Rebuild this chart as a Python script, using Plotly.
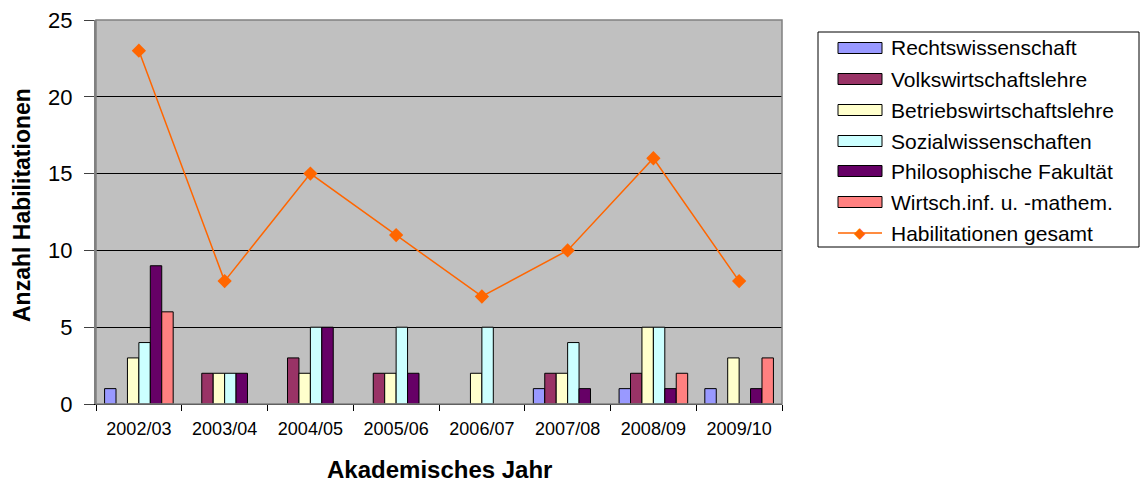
import plotly.graph_objects as go

years = ["2002/03", "2003/04", "2004/05", "2005/06", "2006/07", "2007/08", "2008/09", "2009/10"]
rechts = [1, 0, 0, 0, 0, 1, 1, 1]
vwl = [0, 2, 3, 2, 0, 2, 2, 0]
bwl = [3, 2, 2, 2, 2, 2, 5, 3]
sozial = [4, 2, 5, 5, 5, 4, 5, 0]
philo = [9, 2, 5, 2, 0, 1, 1, 1]
wirtsch = [6, 0, 0, 0, 0, 0, 2, 3]
gesamt = [23, 8, 15, 11, 7, 10, 16, 8]

series = [
    ("Rechtswissenschaft", rechts, "#9999FF"),
    ("Volkswirtschaftslehre", vwl, "#993366"),
    ("Betriebswirtschaftslehre", bwl, "#FFFFCC"),
    ("Sozialwissenschaften", sozial, "#CCFFFF"),
    ("Philosophische Fakultät", philo, "#660066"),
    ("Wirtsch.inf. u. -mathem.", wirtsch, "#FF8080"),
]
line_name = "Habilitationen gesamt"
line_color = "#FF6600"

W, H = 1141, 482
L, R, T, B = 96, 782, 20, 404  # plot area in pixels


def px(x):
    return (x - L) / (R - L)


def py(y):
    return (B - y) / (B - T)


fig = go.Figure()
for name, vals, col in series:
    fig.add_trace(go.Bar(
        x=years, y=[v if v != 0 else None for v in vals], name=name,
        marker=dict(color=col, line=dict(color="black", width=1)),
        showlegend=False,
    ))
fig.add_trace(go.Scatter(
    x=years, y=gesamt, name=line_name, mode="lines+markers",
    line=dict(color=line_color, width=1.5),
    marker=dict(symbol="diamond", size=11, color=line_color),
    showlegend=False,
))

font = "Liberation Sans, Arial, sans-serif"
fig.update_layout(
    width=W, height=H,
    margin=dict(l=L, r=W - R, t=T, b=H - B),
    paper_bgcolor="white", plot_bgcolor="#C0C0C0",
    barmode="group", bargap=0.2, bargroupgap=0,
    font=dict(family=font, color="black"),
    showlegend=False,
    xaxis=dict(
        type="category", tickson="boundaries", ticks="outside", ticklen=6,
        tickcolor="black", showline=True, linecolor="black", linewidth=1,
        tickfont=dict(size=18), showgrid=False, automargin=False,
        ticklabelstandoff=8,
    ),
    yaxis=dict(
        range=[0, 25], dtick=5, ticks="outside", ticklen=10, tickcolor="#404040",
        showline=True, linecolor="#808080", linewidth=2,
        showgrid=True, gridcolor="black", gridwidth=1,
        tickfont=dict(size=22), zeroline=False, automargin=False,
        ticklabelstandoff=7,
    ),
)
# plot area border
fig.add_shape(type="rect", xref="paper", yref="paper", x0=0, x1=1, y0=0, y1=1,
              line=dict(color="#808080", width=1.5), layer="above")

# axis titles
fig.add_annotation(text="<b>Akademisches Jahr</b>", xref="paper", yref="paper",
                   x=px(439), y=py(469), showarrow=False, font=dict(size=24),
                   xanchor="center", yanchor="middle")
fig.add_annotation(text="<b>Anzahl Habilitationen</b>", xref="paper", yref="paper",
                   x=px(22), y=py(205), showarrow=False, font=dict(size=23),
                   textangle=-90, xanchor="center", yanchor="middle")

# custom legend
fig.add_shape(type="rect", xref="paper", yref="paper",
              x0=px(818), x1=px(1139), y0=py(32), y1=py(247),
              line=dict(color="black", width=1), fillcolor="white", layer="above")
rows = [48, 79, 110, 141, 171, 202, 233]
for (name, vals, col), yc in zip(series, rows):
    fig.add_shape(type="rect", xref="paper", yref="paper",
                  x0=px(838), x1=px(882), y0=py(yc - 5.5), y1=py(yc + 5.5),
                  line=dict(color="black", width=1), fillcolor=col, layer="above")
    fig.add_annotation(text=name, xref="paper", yref="paper", x=px(889), y=py(yc),
                       xanchor="left", yanchor="middle", showarrow=False,
                       font=dict(size=21))
yc = rows[-1]
fig.add_shape(type="line", xref="paper", yref="paper",
              x0=px(838), x1=px(882), y0=py(yc), y1=py(yc),
              line=dict(color=line_color, width=1.5), layer="above")
fig.add_annotation(text="◆", xref="paper", yref="paper", x=px(860), y=py(yc),
                   xanchor="center", yanchor="middle", showarrow=False,
                   font=dict(size=15, color=line_color, family="DejaVu Sans"))
fig.add_annotation(text=line_name, xref="paper", yref="paper", x=px(889), y=py(yc),
                   xanchor="left", yanchor="middle", showarrow=False,
                   font=dict(size=21))

fig.write_html("out.html", config={"displayModeBar": False},
               post_script="document.body.style.margin='0';document.body.style.overflow='hidden';")
